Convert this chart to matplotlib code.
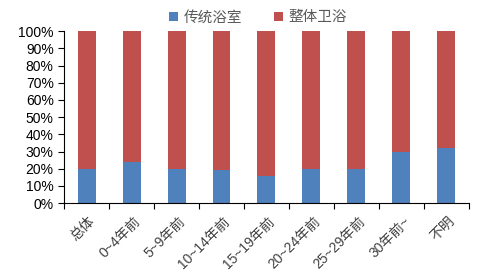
import matplotlib.pyplot as plt
import numpy as np

plt.rcParams['font.family'] = ['Liberation Sans', 'Noto Sans CJK SC', 'DejaVu Sans']

categories = ['总体', '0~4年前', '5~9年前', '10~14年前', '15~19年前',
              '20~24年前', '25~29年前', '30年前~', '不明']
traditional = [20, 24, 20, 19, 16, 20, 20, 30, 32]
integrated = [100 - v for v in traditional]

fig = plt.figure(figsize=(4.78, 2.73), dpi=100)
ax = fig.add_axes([0.134, 0.256, 0.847, 0.63])

x = np.arange(len(categories))
ax.bar(x, traditional, width=0.4, color='#4F81BD', label='传统浴室')
ax.bar(x, integrated, width=0.4, bottom=traditional, color='#C0504D', label='整体卫浴')

ax.set_xlim(-0.5, len(categories) - 0.5)
ax.set_ylim(0, 100)
ax.set_yticks(range(0, 101, 10))
ax.set_yticklabels([f'{v}%' for v in range(0, 101, 10)], fontsize=10)

ax.set_xticks(np.arange(-0.5, len(categories), 1))
ax.set_xticklabels([])
ax.set_xticks(x + 0.03, minor=True)
ax.set_xticklabels(categories, minor=True, rotation=45, ha='right',
                   rotation_mode='anchor', fontsize=10, color='#404040')
ax.tick_params(axis='x', which='minor', length=0, pad=8)
ax.tick_params(axis='x', which='major', length=4, direction='out')
ax.tick_params(axis='y', length=4, direction='out')

for s in ['top', 'right']:
    ax.spines[s].set_visible(False)

leg = fig.legend(loc='upper center', bbox_to_anchor=(0.54, 1.01), ncol=2, frameon=False,
                 fontsize=10.5, handlelength=0.6, handleheight=0.6, columnspacing=2.2,
                 handletextpad=0.4)
for t in leg.get_texts():
    t.set_color('#595959')

plt.savefig('out.png', format='png')
